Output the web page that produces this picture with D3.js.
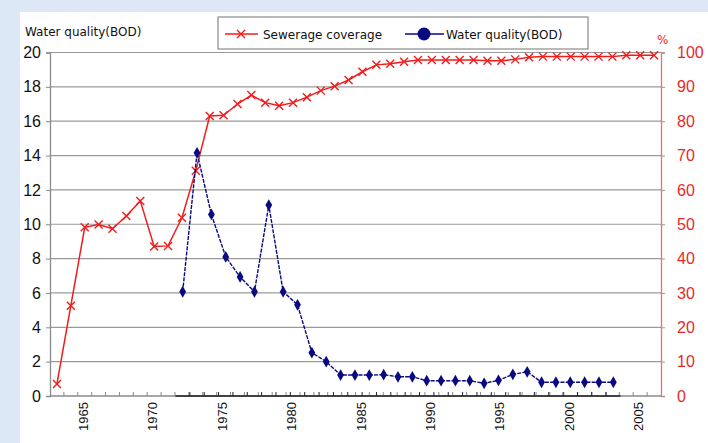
<!DOCTYPE html>
<html><head><meta charset="utf-8">
<script src="https://cdn.jsdelivr.net/npm/d3@7"></script>
<style>
body{margin:0;background:#dce8f6;overflow:hidden}
svg{display:block}
</style></head><body>
<svg id="c" width="708" height="443"></svg>
<script>
// ---- data ----
const years = [1963,1964,1965,1966,1967,1968,1969,1970,1971,1972,1973,1974,1975,1976,1977,1978,1979,1980,1981,1982,1983,1984,1985,1986,1987,1988,1989,1990,1991,1992,1993,1994,1995,1996,1997,1998,1999,2000,2001,2002,2003,2004,2005,2006];
const sewerage = [3.5,26.3,49.1,49.9,48.7,52.4,56.8,43.5,43.7,51.9,65.6,81.5,81.7,85.0,87.6,85.4,84.5,85.4,87.0,88.9,90.2,92.0,94.4,96.4,96.7,97.3,97.8,97.8,97.8,97.8,97.8,97.6,97.6,98.0,98.6,98.8,98.8,98.8,98.8,98.8,98.8,99.2,99.2,99.2];
const bodYears = [1972,1973,1974,1975,1976,1977,1978,1979,1980,1981,1982,1983,1984,1985,1986,1987,1988,1989,1990,1991,1992,1993,1994,1995,1996,1997,1998,1999,2000,2001,2002];
const bod = [6.07,14.16,10.57,8.1,6.93,6.07,11.12,6.07,5.31,2.52,2.0,1.22,1.22,1.22,1.24,1.12,1.12,0.89,0.89,0.89,0.89,0.74,0.91,1.26,1.41,0.8,0.8,0.8,0.8,0.8,0.8];
const leftTicks = [0,2,4,6,8,10,12,14,16,18,20];
const rightTicks = [0,10,20,30,40,50,60,70,80,90,100];
const xLabels = [1965,1970,1975,1980,1985,1990,1995,2000,2005];
const legendItems = ["Sewerage coverage","Water quality(BOD)"];

const RED = "#f01c1c", NAVY = "#0a0a80";
const svg = d3.select("#c");

// background panel
svg.append("rect").attr("x",0).attr("y",0).attr("width",708).attr("height",443).attr("fill","#dce8f6");
svg.append("rect").attr("x",20).attr("y",12).attr("width",688).attr("height",431).attr("fill","#ffffff");

const L = 50, R = 661, T = 52.5, B = 396;
const x = d3.scaleBand().domain(years).range([L,R]).padding(0);
const x2 = d3.scaleBand().domain(bodYears).range([175.5,620.5]).padding(0);
const yL = d3.scaleLinear().domain([0,20]).range([B,T]);
const yR = d3.scaleLinear().domain([0,100]).range([B,T]);

// gridlines
svg.append("g").selectAll("line").data(leftTicks.filter(d=>d>0)).join("line")
  .attr("x1",L).attr("x2",R).attr("y1",d=>yL(d)).attr("y2",d=>yL(d))
  .attr("stroke","#9a9a9a").attr("stroke-width",1.2);

// left axis
const gl = svg.append("g").attr("transform",`translate(${L},0)`)
  .call(d3.axisLeft(yL).tickValues(leftTicks).tickSize(4).tickPadding(5));
gl.select(".domain").attr("stroke","#8a8a8a").attr("stroke-width",1.3);
gl.selectAll(".tick line").attr("stroke","#8a8a8a");
gl.selectAll(".tick text").attr("font-family","Liberation Sans, Arial, sans-serif").attr("font-size",16).attr("fill","#111");

// right axis
const gr = svg.append("g").attr("transform",`translate(${R},0)`)
  .call(d3.axisRight(yR).tickValues(rightTicks).tickSize(4).tickPadding(12));
gr.select(".domain").attr("stroke","#e87070").attr("stroke-width",1.3);
gr.selectAll(".tick line").attr("stroke","#9a9a9a");
gr.selectAll(".tick text").attr("font-family","Liberation Sans, Arial, sans-serif").attr("font-size",16).attr("fill","#e8282a");

// bottom axis (primary) - ticks at category boundaries
const gb = svg.append("g");
gb.append("line").attr("x1",L).attr("x2",R).attr("y1",B).attr("y2",B).attr("stroke","#8a8a8a").attr("stroke-width",1.3);
gb.selectAll("line.t").data(years.slice(1)).join("line").attr("class","t")
  .attr("x1",d=>x(d)).attr("x2",d=>x(d)).attr("y1",B).attr("y2",B-4)
  .attr("stroke","#8a8a8a");
// secondary category axis (BOD)
const gb2 = svg.append("g");
gb2.append("line").attr("x1",x2.range()[0]).attr("x2",x2.range()[1]).attr("y1",B).attr("y2",B).attr("stroke","#222").attr("stroke-width",1.3);
gb2.selectAll("line.t").data(bodYears.slice(1)).join("line").attr("class","t")
  .attr("x1",d=>x2(d)).attr("x2",d=>x2(d)).attr("y1",B).attr("y2",B-4)
  .attr("stroke","#222");

// x labels
svg.append("g").selectAll("text").data(xLabels).join("text")
  .attr("transform",d=>`translate(${x(d)+x.bandwidth()/2-1.5},402) rotate(-90)`)
  .attr("text-anchor","end").attr("dy","0.36em")
  .attr("font-family","Liberation Sans, Arial, sans-serif").attr("font-size",13).attr("fill","#111")
  .text(d=>d);

// sewerage line
const sewData = years.map((y,i)=>({y, v:sewerage[i]}));
svg.append("path").datum(sewData)
  .attr("d", d3.line().x(d=>x(d.y)+x.bandwidth()/2).y(d=>yR(d.v)))
  .attr("fill","none").attr("stroke",RED).attr("stroke-width",1.5);
svg.append("g").selectAll("path").data(sewData).join("path")
  .attr("transform",d=>`translate(${x(d.y)+x.bandwidth()/2},${yR(d.v)})`)
  .attr("d","M-4,-4L4,4M-4,4L4,-4").attr("stroke",RED).attr("stroke-width",1.4).attr("fill","none");

// BOD line
const bodData = bodYears.map((y,i)=>({y, v:bod[i]}));
svg.append("path").datum(bodData)
  .attr("d", d3.line().x(d=>x2(d.y)+x2.bandwidth()/2).y(d=>yL(d.v)))
  .attr("fill","none").attr("stroke",NAVY).attr("stroke-width",1.4).attr("stroke-dasharray","4,1.2");
svg.append("g").selectAll("path").data(bodData).join("path")
  .attr("transform",d=>`translate(${x2(d.y)+x2.bandwidth()/2},${yL(d.v)})`)
  .attr("d", d3.symbol(d3.symbolDiamond, 40)).attr("fill",NAVY);

// axis titles
svg.append("text").attr("x",25).attr("y",36).attr("font-family","DejaVu Sans, sans-serif").attr("font-size",12).attr("fill","#111").text("Water quality(BOD)");
svg.append("text").attr("x",657).attr("y",44).attr("font-family","DejaVu Sans, sans-serif").attr("font-size",12).attr("fill","#e8282a").text("%");

// legend
const lg = svg.append("g");
lg.append("rect").attr("x",218).attr("y",17).attr("width",370).attr("height",32).attr("fill","#fff").attr("stroke","#8a8a8a").attr("stroke-width",1.2);
lg.append("line").attr("x1",225).attr("x2",258).attr("y1",34).attr("y2",34).attr("stroke",RED).attr("stroke-width",1.5);
lg.append("path").attr("transform","translate(241,34)").attr("d","M-4,-4L4,4M-4,4L4,-4").attr("stroke",RED).attr("stroke-width",1.4);
lg.append("text").attr("x",263).attr("y",38.5).attr("font-family","DejaVu Sans, sans-serif").attr("font-size",12).attr("fill","#111").text(legendItems[0]);
lg.append("line").attr("x1",405).attr("x2",444).attr("y1",34).attr("y2",34).attr("stroke",NAVY).attr("stroke-width",1.5);
lg.append("circle").attr("cx",424).attr("cy",34).attr("r",6.5).attr("fill",NAVY);
lg.append("text").attr("x",446).attr("y",38.5).attr("font-family","DejaVu Sans, sans-serif").attr("font-size",12).attr("fill","#111").text(legendItems[1]);
</script>
</body></html>
